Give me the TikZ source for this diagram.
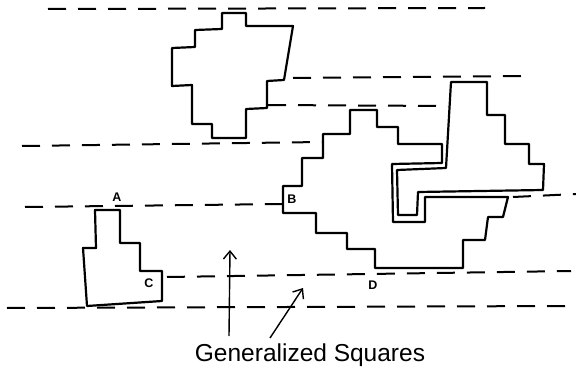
\documentclass[tikz,border=0pt]{standalone}
\usepackage{fontspec}
\setmainfont{Liberation Sans}
\usetikzlibrary{arrows.meta}
\begin{document}
\begin{tikzpicture}[x=1pt,y=-1pt,
  shapeline/.style={line width=2.2pt, line join=round},
  guide/.style={line width=2pt, dash pattern=on 18pt off 12pt},
  lbl/.style={font=\bfseries\fontsize{12.5}{14}\selectfont, inner sep=0pt},
  pointer/.style={line width=1.4pt, -{Straight Barb[length=8pt,width=13pt,line width=1.4pt]}}]
\useasboundingbox[fill=white] (0,0) rectangle (576,377);
% dashed guide lines
\draw[guide] (48,9) -- (485,8);
\draw[guide] (293,78) -- (528,76);
\draw[guide] (268,105) -- (448,106);
\draw[guide] (22,146) -- (322,142);
\draw[guide] (25,207) -- (283,204);
\draw[guide] (513,197) -- (576,194);
\draw[guide] (167,277) -- (571,271);
\draw[guide] (7,308) -- (566,306);
% upper shape
\draw[shapeline] (222,13) -- (246,13) -- (246,26) -- (293,26) -- (284,80) -- (267,81) -- (267,108) -- (246,109) -- (246,138) -- (212,138) -- (212,124) -- (192,124) -- (192,85) -- (172,86) -- (172,48) -- (195,47) -- (195,30) -- (222,29) -- cycle;
% small shape
\draw[shapeline] (95,210) -- (120,210) -- (120,243) -- (140,243) -- (140,271) -- (162,271) -- (162,301) -- (87,306) -- (83,248) -- (96,248) -- cycle;
% large left shape
\draw[shapeline] (350,110) -- (377,110) -- (377,127) -- (398,127) -- (398,144) -- (442,144) -- (442,163) -- (392,164) -- (393,222) -- (425,222) -- (425,197) -- (508,197) -- (503,217) -- (488,217) -- (485,240) -- (463,240) -- (463,268) -- (375,268) -- (375,249) -- (347,249) -- (347,233) -- (316,233) -- (316,213) -- (283,213) -- (283,186) -- (302,186) -- (302,158) -- (323,158) -- (323,134) -- (350,134) -- cycle;
% tall right shape
\draw[shapeline] (451,82) -- (487,82) -- (487,115) -- (505,115) -- (505,144) -- (529,144) -- (529,164) -- (544,164) -- (543,190) -- (418,192) -- (417,215) -- (398,215) -- (397,170) -- (446,168) -- cycle;
% labels
\node[lbl] (la) at (117,197) {A};
\node[lbl] (lb) at (292,199) {B};
\node[lbl] (lc) at (149,283) {C};
\node[lbl] (ld) at (373,285) {D};
% caption and pointers
\node[font=\fontsize{24.5}{28}\selectfont, inner sep=0pt] (caption) at (310,355) {Generalized Squares};
\coordinate (p1s) at (229,336);
\coordinate (p1e) at (230,250);
\coordinate (p2s) at (270,338);
\coordinate (p2e) at (303,288);
\draw[pointer] (p1s) -- (p1e);
\draw[pointer] (p2s) -- (p2e);
\end{tikzpicture}
\end{document}
